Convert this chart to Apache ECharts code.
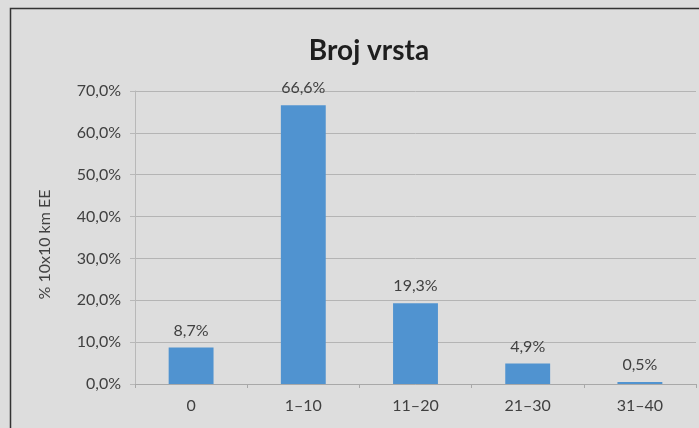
<!DOCTYPE html>
<html><head><meta charset="utf-8">
<script src="https://cdn.jsdelivr.net/npm/echarts@6/dist/echarts.min.js"></script>
<style>html,body{margin:0;padding:0;background:#dddddd;}#c{width:699px;height:428px;}</style>
</head><body><div id="c"></div>
<script>
var categories = ['0', '1–10', '11–20', '21–30', '31–40'];
var values = [8.7, 66.6, 19.3, 4.9, 0.5];
var title = 'Broj vrsta';
var yName = '% 10x10 km EE';
var fmt = function (v) { return v.toFixed(1).replace('.', ',') + '%'; };
var chart = echarts.init(document.getElementById('c'));
chart.setOption({
  backgroundColor: '#dddddd',
  animation: false,
  textStyle: { fontFamily: 'Lato' },
  graphic: [{ type: 'rect', shape: { x: 10.5, y: 8.5, width: 720, height: 440 }, style: { fill: 'none', stroke: '#333', lineWidth: 1.5 } }],
  title: { text: title, left: 364, top: 32, textAlign: 'center', textStyle: { fontSize: 28, fontWeight: 'bold', color: '#1e1e1e', fontFamily: 'Lato' } },
  grid: { left: 135, right: 3, top: 91, bottom: 44 },
  xAxis: {
    type: 'category', data: categories,
    axisLine: { lineStyle: { color: '#a8a8a8' } },
    axisTick: { show: true, length: 4, lineStyle: { color: '#a8a8a8' } },
    axisLabel: { color: '#404040', fontSize: 16, margin: 14 }
  },
  yAxis: {
    type: 'value', min: 0, max: 70, interval: 10,
    name: yName, nameLocation: 'middle', nameGap: 82, nameRotate: 90,
    nameTextStyle: { color: '#404040', fontSize: 16, padding: [0, 14, 0, 0] },
    axisLine: { show: true, lineStyle: { color: '#b8b8b8' } },
    axisTick: { show: true, length: 5, lineStyle: { color: '#b8b8b8' } },
    splitLine: { lineStyle: { color: '#b4b4b4' } },
    axisLabel: { color: '#404040', fontSize: 16, margin: 14, formatter: fmt }
  },
  series: [{
    type: 'bar', data: values, barWidth: '40%',
    itemStyle: { color: '#5093d0' },
    label: { show: true, position: 'top', distance: 9, color: '#404040', fontSize: 16, formatter: function (p) { return fmt(p.value); } }
  }]
});
</script></body></html>
